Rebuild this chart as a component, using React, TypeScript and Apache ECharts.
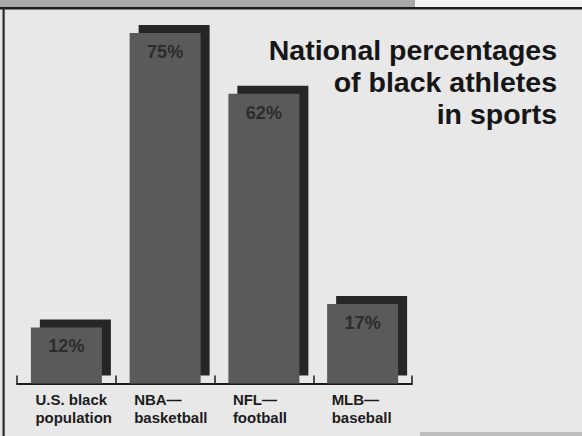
import React, { useEffect, useRef } from "react";
import * as echarts from "echarts";

const categories = ["U.S. black\npopulation", "NBA—\nbasketball", "NFL—\nfootball", "MLB—\nbaseball"];
const values = [12, 75, 62, 17];
const titleLines = ["National percentages", "of black athletes", "in sports"];

const FONT = "'Liberation Sans', Arial, Helvetica, sans-serif";

export default function App() {
  const ref = useRef<HTMLDivElement>(null);
  useEffect(() => {
    if (!ref.current) return;
    const chart = echarts.init(ref.current, undefined, { renderer: "svg" });
    const option: any = {
      animation: false,
      backgroundColor: "#e8e8e8",
      title: {
        text: titleLines.map((s) => `{t|${s}}`).join("\n"),
        right: 25,
        top: 34,
        padding: 0,
        textStyle: {
          rich: {
            t: {
              align: "right",
              fontFamily: FONT,
              fontSize: 28.5,
              fontWeight: "bold",
              lineHeight: 32,
              color: "#161616",
            },
          },
        },
      },
      graphic: [
        { type: "rect", left: 0, top: 0, shape: { width: 415, height: 7 }, style: { fill: "#a8a8a8" }, silent: true },
        { type: "rect", left: 415, top: 0, shape: { width: 167, height: 7 }, style: { fill: "#f2f2f2" }, silent: true },
        { type: "rect", left: 0, top: 7, shape: { width: 582, height: 2.5 }, style: { fill: "#1e1e1e" }, silent: true },
        { type: "rect", left: 2.5, top: 8, shape: { width: 2.2, height: 428 }, style: { fill: "#2a2a2a" }, silent: true },
        { type: "rect", left: 420, top: 432, shape: { width: 162, height: 4 }, style: { fill: "#bdbdbd" }, silent: true },
      ],
      grid: { left: 17, right: 170, top: 9.6, bottom: 52.5 },
      xAxis: {
        type: "category",
        data: categories,
        boundaryGap: true,
        axisLine: { show: true, lineStyle: { color: "#1c1c1c", width: 2 } },
        axisTick: { show: true, inside: true, length: 8, interval: 0, lineStyle: { color: "#1c1c1c", width: 1.5 } },
        axisLabel: {
          interval: 0,
          margin: 7,
          align: "center",
          formatter: (v: string) => v.split("\n").map((s) => `{a|${s}}`).join("\n"),
          rich: {
            a: {
              width: 62,
              align: "left",
              fontFamily: FONT,
              fontSize: 15,
              fontWeight: "bold",
              lineHeight: 18,
              color: "#1c1c1c",
            },
          },
        },
        splitLine: { show: false },
      },
      yAxis: {
        type: "value",
        min: 0,
        max: 80,
        show: false,
        splitLine: { show: false },
      },
      series: [
        {
          type: "custom",
          z: 1,
          clip: false,
          data: values.map((v, i) => [i, v]),
          renderItem: (params: any, api: any) => {
            const idx = api.value(0);
            const v = api.value(1);
            const top = api.coord([idx, v]);
            const base = api.coord([idx, 0]);
            const w = 71;
            return {
              type: "rect",
              shape: { x: top[0] - w / 2 + 1 + 8, y: top[1] - 8, width: w, height: base[1] - top[1] },
              style: { fill: "#262626" },
            };
          },
        },
        {
          type: "bar",
          z: 2,
          data: values,
          barWidth: 71,
          itemStyle: { color: "#5a5a5a" },
          label: {
            show: true,
            position: "insideTop",
            distance: 10,
            formatter: "{c}%",
            fontFamily: FONT,
            fontSize: 18,
            fontWeight: "bold",
            color: "#2c2c2c",
          },
        },
      ],
    };
    chart.setOption(option);
    return () => chart.dispose();
  }, []);
  return (
    <div
      ref={ref}
      style={{ position: "fixed", left: 0, top: 0, width: 582, height: 436 }}
    />
  );
}
